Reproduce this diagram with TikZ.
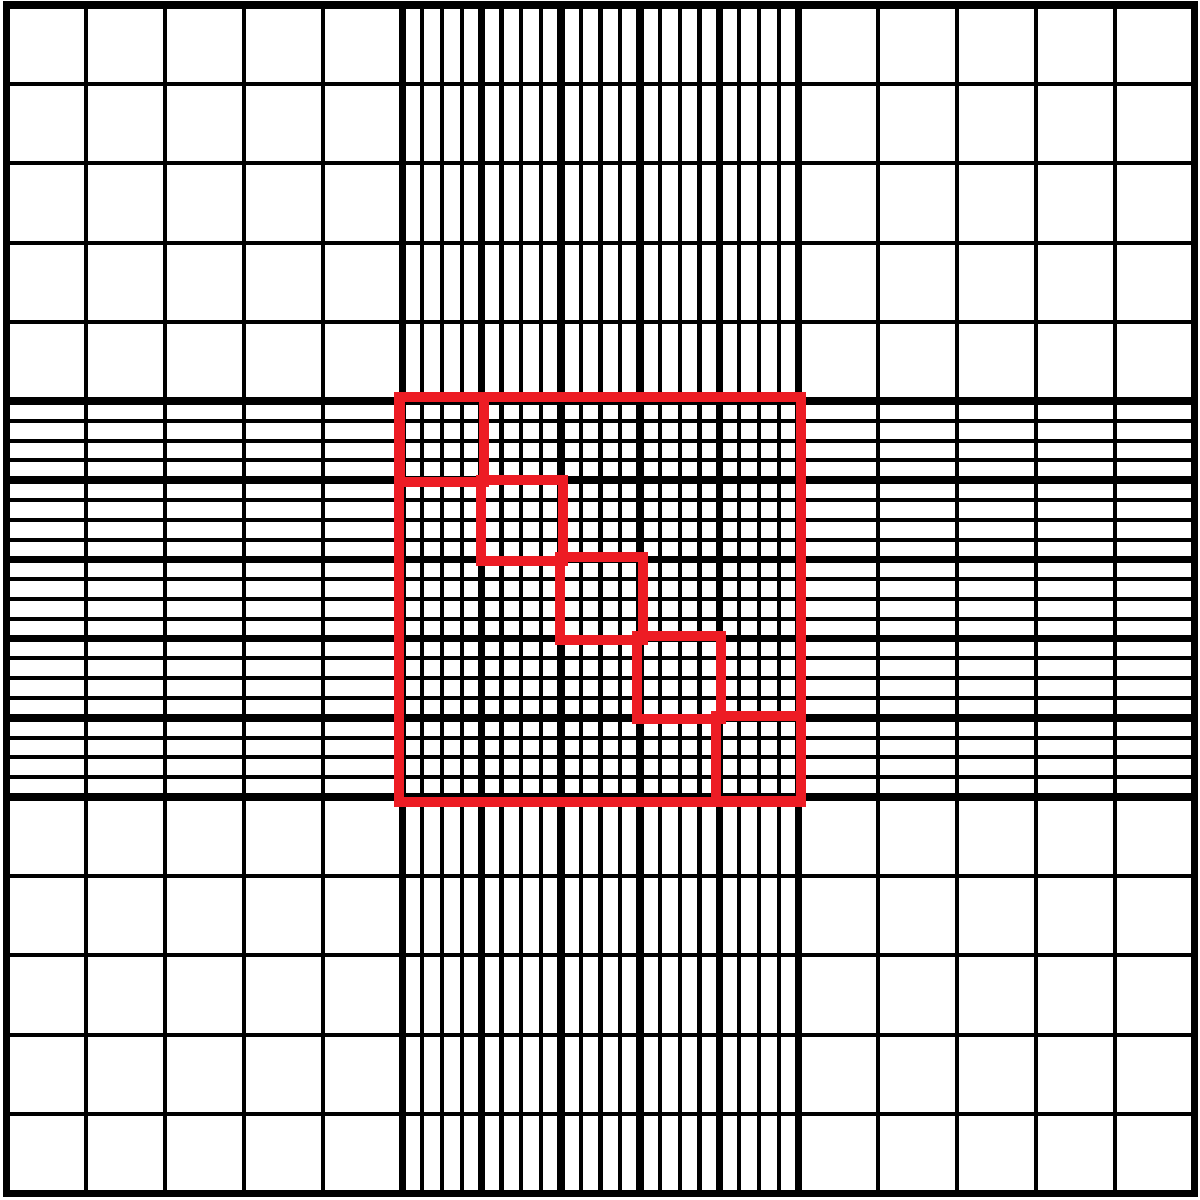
\documentclass[tikz,border=0pt]{standalone}
\begin{document}
\begin{tikzpicture}[x=0.01cm,y=-0.01cm,
  thinline/.style={line width=1.15pt,black},
  thickline/.style={line width=2.15pt,black},
  borderline/.style={line width=2pt,black},
  redline/.style={line width=3pt,draw={rgb,255:red,237;green,28;blue,36}}]
\useasboundingbox (0,0) rectangle (1200,1200);
\fill[white] (0,0) rectangle (1200,1200);
% fine subdivisions in central bands
\foreach \j in {1,...,19}{
  \pgfmathtruncatemacro{\r}{mod(\j,4)}
  \ifnum\r>0
    \draw[thinline] ({6.5+396+19.8*\j},5) -- ({6.5+396+19.8*\j},1193.5);
    \draw[thinline] (6.5,{5+396+19.8*\j}) -- (1194,{5+396+19.8*\j});
  \fi
}
% coarse grid
\foreach \k in {1,...,14}{
  \draw[thinline] ({6.5+79.2*\k},5) -- ({6.5+79.2*\k},1193.5);
  \draw[thinline] (6.5,{5+79.2*\k}) -- (1194,{5+79.2*\k});
}
% thick lines bounding subdivisions
\foreach \k in {5,...,10}{
  \draw[thickline] ({6.5+79.2*\k},5) -- ({6.5+79.2*\k},1193.5);
  \draw[thickline] (6.5,{5+79.2*\k}) -- (1194,{5+79.2*\k});
}
% border
\draw[borderline] (6.5,5) rectangle (1194,1193.5);
% red counting squares
\draw[redline] (399,397) rectangle (801,802);
\draw[redline] (400,397) rectangle (484,482);
\draw[redline] (481,480) rectangle (563,561);
\draw[redline] (560,557) rectangle (643,640);
\draw[redline] (637,636) rectangle (721,719);
\draw[redline] (716,716) rectangle (801,801);
\end{tikzpicture}
\end{document}
